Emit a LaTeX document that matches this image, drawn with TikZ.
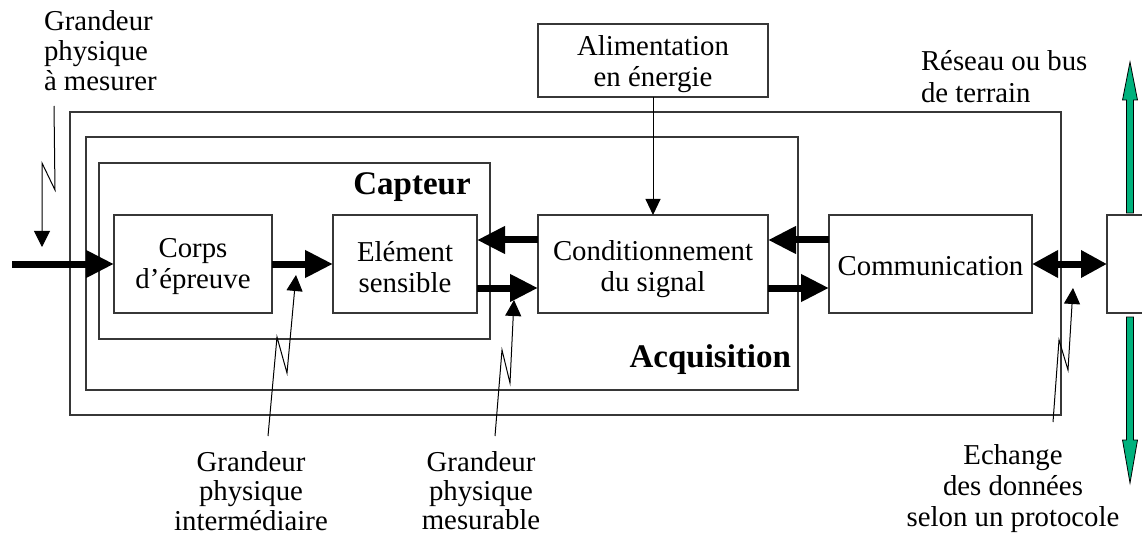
\documentclass[tikz,border=0pt]{standalone}
\usepackage{fontspec}
\setmainfont{Liberation Serif}
\usetikzlibrary{arrows.meta,calc}
\definecolor{busgreen}{RGB}{0,178,125}
\definecolor{frame}{RGB}{55,55,55}
\begin{document}
\begin{tikzpicture}[x=1pt,y=-1pt,
  every node/.style={font=\fontsize{28.8}{31}\selectfont, inner sep=0pt, outer sep=0pt},
  region/.style={draw=frame, line width=1.3pt},
  block/.style={draw=frame, line width=1.3pt, minimum height=98pt},
  flow/.style={line width=7pt, -{Triangle[length=28pt,width=26pt]}},
  flowboth/.style={line width=7pt, {Triangle[length=26pt,width=26pt]}-{Triangle[length=26pt,width=26pt]}},
  zig/.style={line width=1pt, -{Triangle[length=16pt,width=16pt]}},
  note/.style={align=center},
  heading/.style={font=\fontsize{33}{33}\selectfont\bfseries},
  bus/.style={fill=busgreen, draw=black, line width=0.8pt, line join=miter}
]
\useasboundingbox (0,0) rectangle (1142,537);

% nested frames: network, acquisition chain, sensor
\node[region, minimum width=991pt, minimum height=303pt] (reseau) at (565.5,263.5) {};
\node[region, minimum width=712pt, minimum height=253pt] (acq) at (442,263.5) {};
\node[region, minimum width=391pt, minimum height=176pt] (capt) at (294.5,251) {};

% functional blocks
\node[block, minimum width=158pt] (corps) at (193,264) {};
\node[block, minimum width=144pt] (elem) at (405,264) {};
\node[block, minimum width=230pt] (cond) at (653,264) {};
\node[block, minimum width=203pt] (comm) at (930.5,264) {};
\node[block, minimum width=60pt, anchor=west] (busbox) at (1107,264) {};
\node[region, minimum width=230pt, minimum height=73pt] (alim) at (653,60.5) {};

% block texts
\node[note] (corpstxt) at (193,267) {Corps\\d’épreuve};
\node[note] (elemtxt) at (405,267) {Elément\\sensible};
\node[note] (condtxt) at (653,269) {Conditionnement\\du signal};
\node (commtxt) at (930.5,266) {Communication};
\node[note] (alimtxt) at (653,64) {Alimentation\\en énergie};

% frame titles
\node[heading, anchor=base] (captlbl) at (412,195) {Capteur};
\node[heading, anchor=base east] (acqlbl) at (791,367) {Acquisition};

% free labels
\node[align=left, anchor=west, font=\fontsize{28.8}{30}\selectfont] (gpm) at (44,51) {Grandeur\\physique\\à mesurer};
\node[align=left, anchor=west, font=\fontsize{28.8}{32}\selectfont] (reslbl) at (921,77) {Réseau ou bus\\de terrain};
\node[note, font=\fontsize{28.8}{29.5}\selectfont] (gpi) at (251,491) {Grandeur\\physique\\intermédiaire};
\node[note, font=\fontsize{28.8}{29}\selectfont] (gpme) at (481,491) {Grandeur\\physique\\mesurable};
\node[note] (ech) at (1013,489) {Echange\\des données\\selon un protocole};

% main signal flow
\coordinate (in) at (12,264);
\draw[flow] (in) -- (corps.west);
\draw[flow] (corps.east) -- (elem.west);
\draw[flow] ([yshift=-24pt]elem.east) -- ([yshift=-24pt]cond.west);
\draw[flow] ([yshift=24pt]cond.west) -- ([yshift=24pt]elem.east);
\draw[flow] ([yshift=-24pt]cond.east) -- ([yshift=-24pt]comm.west);
\draw[flow] ([yshift=24pt]comm.west) -- ([yshift=24pt]cond.east);
\draw[flowboth] (comm.east) -- (busbox.west);

% power supply
\draw[line width=1pt, -{Triangle[length=16pt,width=15pt]}] (alim.south) -- (cond.north);

% field bus arrows
\coordinate (bustop) at (1130,62);
\coordinate (busbot) at (1130,483);
\draw[bus] (1126.5,213) -- (1126.5,100) -- (1122.5,100) -- (bustop) -- (1137.5,100) -- (1133.5,100) -- (1133.5,213) -- cycle;
\draw[bus] (1126.5,317) -- (1126.5,440) -- (1122.5,440) -- (busbot) -- (1137.5,440) -- (1133.5,440) -- (1133.5,317) -- cycle;

% lightning-style pointers
\coordinate (z1) at (54,106);
\coordinate (t1) at (42,247);
\draw[zig] (z1) -- (55,190) -- (42,163) -- (t1);
\coordinate (z2) at (268,436);
\coordinate (t2) at (296,275);
\draw[zig] (z2) -- (277,337) -- (287,373) -- (t2);
\coordinate (z3) at (495,436);
\coordinate (t3) at (514,300);
\draw[zig] (z3) -- (502,350) -- (510,383) -- (t3);
\coordinate (z4) at (1053,422);
\coordinate (t4) at (1073,288);
\draw[zig] (z4) -- (1059,340) -- (1068,370) -- (t4);
\end{tikzpicture}
\end{document}
